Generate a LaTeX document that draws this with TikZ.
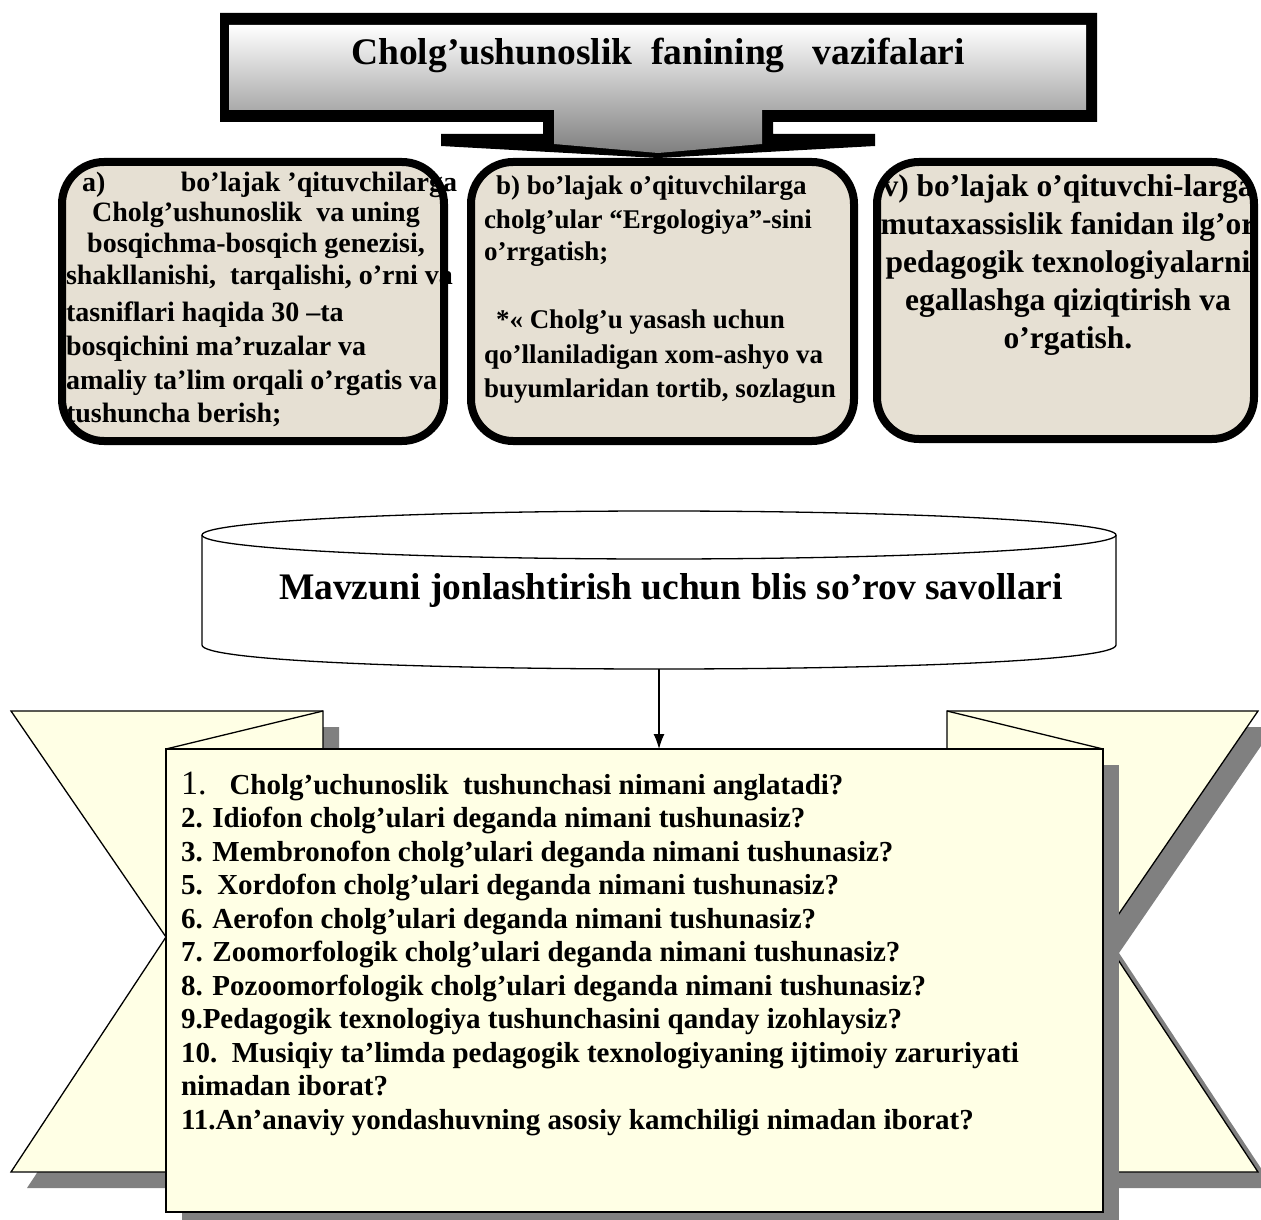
\documentclass[tikz,border=0pt]{standalone}
\usepackage{fontspec}
\setmainfont{Liberation Serif}
\usetikzlibrary{arrows.meta}
\definecolor{cream}{HTML}{FFFFE5}
\definecolor{beige}{HTML}{E6E0D3}
\definecolor{shadowgray}{HTML}{808080}
\begin{document}
\begin{tikzpicture}[x=1pt,y=-1pt,
  txt/.style={inner sep=0pt, outer sep=0pt, anchor=base west},
  titlefont/.style={font=\fontsize{37.5}{40}\selectfont\bfseries},
  fa/.style={txt, font=\fontsize{28}{30}\selectfont\bfseries},
  fb/.style={txt, font=\fontsize{27}{30}\selectfont\bfseries},
  fc/.style={txt, anchor=base, font=\fontsize{31.5}{34}\selectfont\bfseries},
  fq/.style={txt, font=\fontsize{29}{31}\selectfont\bfseries},
  taskfill/.style={fill=beige, rounded corners=42pt, inner sep=0pt, outer sep=0pt},
  taskborder/.style={draw=black, line width=8pt, rounded corners=42pt},
  banner/.style={fill=cream, draw=black, line width=1.3pt, line join=miter},
  shadow/.style={fill=shadowgray},
]
\useasboundingbox (0,0) rectangle (1261,1220);

% ---------- top callout ----------
\fill[black] (220,13) -- (1097,13) -- (1097,122) -- (773,122) -- (773,134) -- (875,134)
  -- (875,146) -- (658,158) -- (441,146) -- (441,134) -- (543,134) -- (543,122) -- (220,122) -- cycle;
\shade[top color=white, bottom color=black!50] (229,25) -- (1086,25) -- (1086,110) -- (762,110)
  -- (762,144) -- (658,153) -- (554,144) -- (554,110) -- (229,110) -- cycle;
\node[txt, anchor=base, titlefont] (title) at (658,65) {Cholg’ushunoslik\ \ fanining\ \ \ vazifalari};

% ---------- three task boxes ----------
\node[taskfill, minimum width=382pt, minimum height=279pt] (boxa) at (253,301.5) {};
\node[taskfill, minimum width=383pt, minimum height=279pt] (boxb) at (662.5,301.5) {};
\node[taskfill, minimum width=377pt, minimum height=277pt] (boxc) at (1065.5,300.5) {};

% box a text
\node[fa] (a1) at (82,191) {\hbox to 375pt{a)\hfill bo’lajak ’qituvchilarga}};
\node[fa, anchor=base] (a2) at (256,221) {Cholg’ushunoslik\ \ va uning};
\node[fa, anchor=base] (a3) at (256,252) {bosqichma-bosqich genezisi,};
\node[fa] (a4) at (66,284) {shakllanishi,\ \ tarqalishi, o’rni va};
\node[fa] (a5) at (66,321) {tasniflari haqida 30 –ta};
\node[fa] (a6) at (66,355) {bosqichini ma’ruzalar va};
\node[fa] (a7) at (66,389) {amaliy ta’lim orqali o’rgatis va};
\node[fa] (a8) at (66,422) {tushuncha berish;};

% box b text
\node[fb] (b1) at (496,194) {b) bo’lajak o’qituvchilarga};
\node[fb] (b2) at (484,228) {cholg’ular “Ergologiya”-sini};
\node[fb] (b3) at (484,260) {o’rrgatish;};
\node[fb] (b5) at (496,328) {*« Cholg’u yasash uchun};
\node[fb] (b6) at (484,363) {qo’llaniladigan xom-ashyo va};
\node[fb] (b7) at (484,397) {buyumlaridan tortib, sozlagun};

% box c text
\node[fc] (c1) at (1068,196) {v) bo’lajak o’qituvchi-larga};
\node[fc] (c2) at (1068,234) {mutaxassislik fanidan ilg’or};
\node[fc] (c3) at (1068,272) {pedagogik texnologiyalarni};
\node[fc] (c4) at (1068,310) {egallashga qiziqtirish va};
\node[fc] (c5) at (1068,348) {o’rgatish.};

\draw[taskborder] (boxa.north west) rectangle (boxa.south east);
\draw[taskborder] (boxb.north west) rectangle (boxb.south east);
\draw[taskborder] (boxc.north west) rectangle (boxc.south east);

% ---------- cylinder ----------
\filldraw[fill=white, line width=1.3pt] (202,535) -- (202,645) .. controls (202,677) and (1116,677) .. (1116,645) -- (1116,535);
\draw[line width=1.3pt] (659,535) ellipse [x radius=457, y radius=24];
\node[txt, anchor=base, titlefont] (cyltext) at (671,599) {Mavzuni jonlashtirish uchun blis so’rov savollari};
\coordinate (cylbot) at (659,669);

% ---------- banner ----------
\fill[shadow] (27,727) -- (339,727) -- (339,1188) -- (27,1188) -- (182,953) -- cycle;
\path[banner] (11,711) -- (323,711) -- (323,1172) -- (11,1172) -- (166,937) -- cycle;
\draw[line width=1.3pt] (323,711) -- (166,749);
\fill[shadow] (963,727) -- (1274,727) -- (1119,953) -- (1274,1188) -- (963,1188) -- cycle;
\path[banner] (947,711) -- (1258,711) -- (1103,937) -- (1258,1172) -- (947,1172) -- cycle;
\draw[line width=1.3pt] (947,711) -- (1103,749);
\fill[shadow] (182,765) rectangle (1119,1228);
\node[banner, minimum width=937pt, minimum height=463pt, inner sep=0pt, outer sep=0pt] (qbox) at (634.5,980.5) {};

\draw[line width=1.3pt, -{Latex[length=15pt,width=11pt]}] (cylbot) -- (cylbot |- qbox.north);

% questions
\node[fq] (q1) at (181,794) {{\mdseries\fontsize{34}{34}\selectfont 1.}\hspace{23pt}Cholg’uchunoslik\ \ tushunchasi nimani anglatadi?};
\node[fq] (q2) at (181,827.5) {2. Idiofon cholg’ulari deganda nimani tushunasiz?};
\node[fq] (q3) at (181,861) {3. Membronofon cholg’ulari deganda nimani tushunasiz?};
\node[fq] (q4) at (181,894.5) {5.\ \ Xordofon cholg’ulari deganda nimani tushunasiz?};
\node[fq] (q5) at (181,928) {6. Aerofon cholg’ulari deganda nimani tushunasiz?};
\node[fq] (q6) at (181,961.5) {7. Zoomorfologik cholg’ulari deganda nimani tushunasiz?};
\node[fq] (q7) at (181,995) {8. Pozoomorfologik cholg’ulari deganda nimani tushunasiz?};
\node[fq] (q8) at (181,1028.5) {9.Pedagogik texnologiya tushunchasini qanday izohlaysiz?};
\node[fq] (q9) at (181,1062) {10.\ \ Musiqiy ta’limda pedagogik texnologiyaning ijtimoiy zaruriyati};
\node[fq] (q10) at (181,1095.5) {nimadan iborat?};
\node[fq] (q11) at (181,1129) {11.An’anaviy yondashuvning asosiy kamchiligi nimadan iborat?};
\end{tikzpicture}
\end{document}
